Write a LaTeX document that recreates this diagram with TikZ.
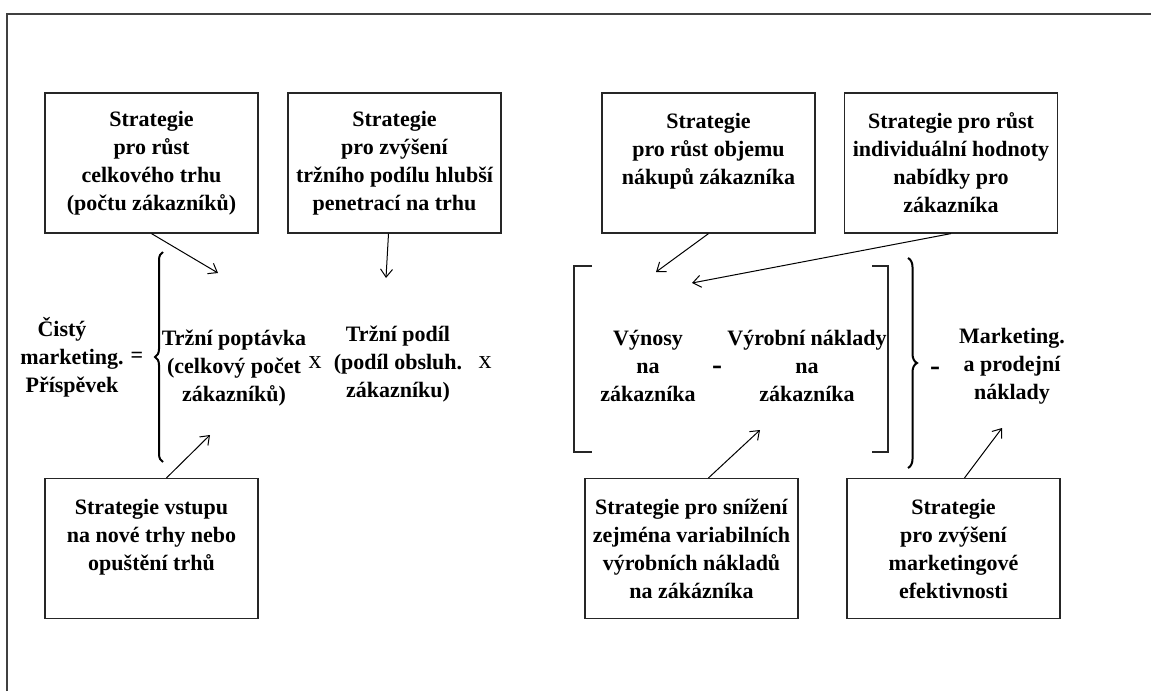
\documentclass[tikz,border=0pt]{standalone}
\usepackage{fontspec}
\setmainfont{Liberation Serif}
\usepackage{tikz}
\usetikzlibrary{shapes,arrows,arrows.meta}
\usetikzlibrary{positioning,calc,decorations.pathreplacing}

\newcommand{\lowpad}{\mbox{}\\[-6pt]} % pushes the text of the lower boxes down

\tikzset{
  strat/.style={draw=black!85, line width=0.6pt, minimum width=106.5pt, minimum height=70pt,
    inner sep=0pt, align=center, font=\fontsize{11}{14}\selectfont\bfseries},
  term/.style={align=center, inner sep=0pt, font=\fontsize{11}{14}\selectfont\bfseries},
  oper/.style={inner sep=0pt, font=\fontsize{13}{14}\selectfont},
  minus/.style={inner sep=0pt, font=\fontsize{15}{15}\selectfont\bfseries},
  link/.style={-{Straight Barb[length=4pt,width=6pt]}, line width=0.5pt},
}

\begin{document}
\begin{tikzpicture}[x=0.5pt,y=-0.5pt]
\useasboundingbox (0,0) rectangle (1151,691);
\draw[black!75, line width=0.6pt] (7,691) -- (7,14) -- (1151,14); % edit here for the frame

% upper strategies
\node[strat] (grow) at (151.5,163) {Strategie\\pro růst\\celkového trhu\\(počtu zákazníků)};
\node[strat] (share s) at (394.5,163) {Strategie\\pro zvýšení\\tržního podílu hlubší\\penetrací na trhu};
\node[strat] (volume) at (708.5,163) {Strategie\\pro růst objemu\\nákupů zákazníka\\~};
\node[strat] (value) at (951,163) {Strategie pro růst\\individuální hodnoty\\nabídky pro\\zákazníka};

% lower strategies
\node[strat] (entry) at (151.5,548.5) {\lowpad Strategie vstupu\\na nové trhy nebo\\opuštění trhů\\~};
\node[strat] (cost) at (691.5,548.5) {\lowpad Strategie pro snížení\\zejména variabilních\\výrobních nákladů\\na zákázníka};
\node[strat] (effic) at (953.5,548.5) {\lowpad Strategie\\pro zvýšení\\marketingové\\efektivnosti};

% the formula
\node[term] (contrib) at (72,357) {Čistý\hspace*{10pt}\\marketing.\\Příspěvek};
\node[term] (eq) at (137,357) {=};
\node[term] (demand) at (234,368) {Tržní poptávka\\(celkový počet\\zákazníků)};
\node[oper] (times1) at (315,363) {x};
\node[term] (share) at (398,364) {Tržní podíl\\(podíl obsluh.\\zákazníku)};
\node[oper] (times2) at (485,363) {x};
\node[term] (revenue) at (648,366) {Výnosy\\na\\zákazníka};
\node[minus] (minus1) at (717,370) {-};
\node[term] (prodcost) at (807,366) {Výrobní náklady\\na\\zákazníka};
\node[minus] (minus2) at (935,371) {-};
\node[term] (mktcost) at (1012,366) {Marketing.\\a prodejní\\náklady};

\draw[line width=1pt, decorate, decoration={brace,amplitude=4pt}] (163,462) -- (163,252);
\draw[line width=1pt, decorate, decoration={brace,amplitude=4.5pt}] (908,258) -- (908,468);
\draw[black!85, line width=0.6pt] (592,266) -- (574,266) -- (574,452) -- (592,452);
\draw[black!85, line width=0.6pt] (872,266) -- (888,266) -- (888,452) -- (872,452);

% arrow tips
\coordinate (t1) at (218,273);
\coordinate (t2) at (386,278);
\coordinate (t3) at (656,272);
\coordinate (t4) at (692,283);
\coordinate (t5) at (210,435);
\coordinate (t6) at (760,430);
\coordinate (t7) at (1002,428);

\draw[link] (grow.south) -- (t1);
\draw[link] ($(share s.south)+(-6,0)$) -- (t2);
\draw[link] (volume.south) -- (t3);
\draw[link] (value.south) -- (t4);
\draw[link] ($(entry.north)+(15,0)$) -- (t5);
\draw[link] ($(cost.north)+(17,0)$) -- (t6);
\draw[link] ($(effic.north)+(11,0)$) -- (t7);
\end{tikzpicture}
\end{document}
